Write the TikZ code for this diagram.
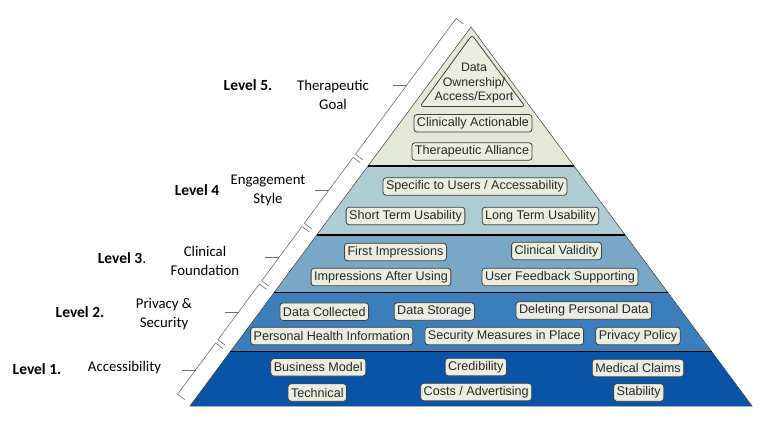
\documentclass[tikz,border=0pt]{standalone}
\usepackage{fontspec}
\setmainfont{Carlito}
\newfontfamily\itemfont{Liberation Sans}
\usetikzlibrary{calc}
\usepackage{xcolor}
\definecolor{tierfive}{RGB}{227,233,214}
\definecolor{tierfour}{RGB}{175,204,210}
\definecolor{tierthree}{RGB}{123,167,199}
\definecolor{tiertwo}{RGB}{58,127,188}
\definecolor{tierone}{RGB}{10,84,168}
\definecolor{itemfill}{RGB}{234,237,223}
\definecolor{itemline}{RGB}{64,64,64}
\definecolor{itemtext}{RGB}{40,40,40}
\definecolor{braceline}{RGB}{110,110,110}

\begin{document}
\begin{tikzpicture}[x=1pt, y=-1pt,
    sep/.style={line width=1.8pt, black},
    outline/.style={draw=itemline, line width=0.5pt},
    item/.style={draw=itemline, line width=0.8pt, rounded corners=3pt, fill=itemfill,
                 text=itemtext, font=\itemfont\fontsize{12.6}{14.5}\selectfont,
                 inner xsep=3pt, inner ysep=0pt, minimum height=17.5pt},
    lvl/.style={font=\bfseries\fontsize{15.5}{19}\selectfont},
    desc/.style={font=\fontsize{14.8}{19}\selectfont, align=center},
    brace/.style={draw=braceline, line width=0.6pt}
]
    \useasboundingbox (0,0) rectangle (760,425);

    % pyramid corners and tier borders on both slopes
    \coordinate (apex) at (471,27);
    \coordinate (bl) at (190,406);
    \coordinate (br) at (752,406);
    \coordinate (l1) at (367.9,166);   \coordinate (r1) at (574.1,166);
    \coordinate (l2) at (316.8,235);   \coordinate (r2) at (625.2,235);
    \coordinate (l3) at (274.2,292.5); \coordinate (r3) at (667.8,292.5);
    \coordinate (l4) at (230.4,351.5); \coordinate (r4) at (711.6,351.5);

    % tiers, top to bottom
    \fill[tierfive]  (apex) -- (r1) -- (l1) -- cycle;
    \fill[tierfour]  (l1) -- (r1) -- (r2) -- (l2) -- cycle;
    \fill[tierthree] (l2) -- (r2) -- (r3) -- (l3) -- cycle;
    \fill[tiertwo]   (l3) -- (r3) -- (r4) -- (l4) -- cycle;
    \fill[tierone]   (l4) -- (r4) -- (br) -- (bl) -- cycle;
    \draw[outline] (apex) -- (br) -- (bl) -- cycle;
    \foreach \i in {1,...,4}
        \draw[sep] (l\i) -- (r\i);

    % brackets along the left slope
    \coordinate (q0) at ($(apex)+(-13.65,-10.13)$);
    \foreach \i in {1,...,4}
        \coordinate (q\i) at ($(l\i)+(-13.65,-10.13)$);
    \coordinate (q5) at ($(bl)+(-13.65,-10.13)$);
    \foreach \a/\b in {0/1,1/2,2/3,3/4,4/5}
        \draw[brace] ($(q\a)!2pt!(q\b)+(7.2,5.4)$) -- ($(q\a)!2pt!(q\b)$)
            -- ($(q\b)!2pt!(q\a)$) -- ($(q\b)!2pt!(q\a)+(7.2,5.4)$);

    \coordinate (m5) at (intersection of q0--q5 and 0,85--10,85);
    \coordinate (m4) at (intersection of q0--q5 and 0,190--10,190);
    \coordinate (m3) at (intersection of q0--q5 and 0,257--10,257);
    \coordinate (m2) at (intersection of q0--q5 and 0,312--10,312);
    \coordinate (m1) at (intersection of q0--q5 and 0,370--10,370);
    \foreach \i in {1,...,5}
        \draw[brace] (m\i) -- ++(-14,0);

    % level names
    \node[lvl] (lv5) at (248,85) {Level 5.};
    \node[desc] (d5) at (333,94.5) {Therapeutic\\Goal};
    \node[lvl] (lv4) at (197,190) {Level 4};
    \node[desc] (d4) at (268,190) {Engagement\\Style};
    \node[lvl] (lv3) at (122,258) {Level 3{\mdseries.}};
    \node[desc] (d3) at (205,261) {Clinical\\Foundation};
    \node[lvl] (lv2) at (80,312) {Level 2.};
    \node[desc] (d2) at (164,314) {Privacy \&\\Security};
    \node[lvl] (lv1) at (37,369) {Level 1.};
    \node[desc] (d1) at (124.5,368) {Accessibility};

    % tier 5
    \draw[outline, fill=itemfill, rounded corners=3pt, line width=0.8pt]
        (472,35) -- (525,106.5) -- (420,106.5) -- cycle;
    \node[font=\itemfont\fontsize{12.3}{14.5}\selectfont, text=itemtext, align=center]
        (ownership) at (474,83.5) {Data\\Ownership/\\Access/Export};
    \node[item] (actionable) at (473,123.3) {Clinically Actionable};
    \node[item] (alliance) at (472,151.5) {Therapeutic Alliance};

    % tier 4
    \node[item] (specific) at (475,186.5) {Specific to Users / Accessability};
    \node[item] (shortterm) at (405.5,216) {Short Term Usability};
    \node[item] (longterm) at (540.5,216) {Long Term Usability};

    % tier 3
    \node[item] (firstimp) at (395.5,252) {First Impressions};
    \node[item] (clinvalid) at (556.5,251) {Clinical Validity};
    \node[item] (afteruse) at (381,277) {Impressions After Using};
    \node[item] (feedback) at (560,277) {User Feedback Supporting};

    % tier 2
    \node[item] (collected) at (324.3,311.7) {Data Collected};
    \node[item] (storage) at (434.3,311.5) {Data Storage};
    \node[item] (deleting) at (583.8,310.5) {Deleting Personal Data};
    \node[item] (health) at (331.7,336) {Personal Health Information};
    \node[item] (security) at (504.3,336) {Security Measures in Place};
    \node[item] (policy) at (638,336) {Privacy Policy};

    % tier 1
    \node[item] (business) at (318.3,367.3) {Business Model};
    \node[item] (credibility) at (475.8,367) {Credibility};
    \node[item] (medical) at (638,368) {Medical Claims};
    \node[item] (technical) at (317.3,392.5) {Technical};
    \node[item] (costs) at (476.2,392) {Costs / Advertising};
    \node[item] (stability) at (638.7,392.5) {Stability};
\end{tikzpicture}
\end{document}
